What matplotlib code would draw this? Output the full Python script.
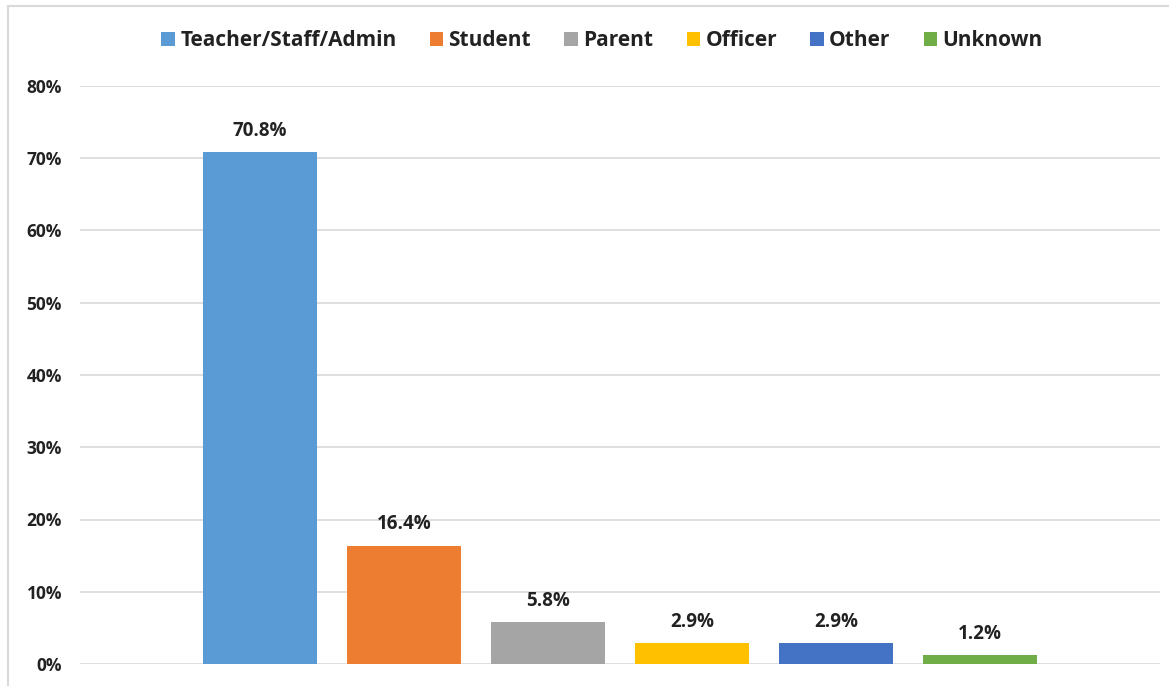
import matplotlib.pyplot as plt
from matplotlib.lines import Line2D
from matplotlib.patches import Patch

# data
groups = ["Teacher/Staff/Admin", "Student", "Parent", "Officer", "Other", "Unknown"]
shares = [70.8, 16.4, 5.8, 2.9, 2.9, 1.2]
colors = ["#5B9BD5", "#ED7D31", "#A5A5A5", "#FFC000", "#4472C4", "#70AD47"]
yticks = [0, 10, 20, 30, 40, 50, 60, 70, 80]

plt.rcParams['font.family'] = ['Open Sans', 'DejaVu Sans']

fig = plt.figure(figsize=(11.69, 6.86), dpi=100)
ax = fig.add_axes([80 / 1169, 22 / 686, 1080 / 1169, 578 / 686])

x = list(range(len(groups)))
bars = ax.bar(x, shares, width=0.785, color=colors, zorder=3)

for b, v in zip(bars, shares):
    ax.annotate(f"{v}%", (b.get_x() + b.get_width() / 2, v),
                xytext=(0, 8), textcoords="offset points",
                ha="center", va="bottom", fontsize=13.5, fontweight="bold",
                color="#222222")

ax.set_xlim(-1.25, 6.25)
ax.set_ylim(0, 80)
ax.set_yticks(yticks)
ax.set_yticklabels([f"{t}%" for t in yticks], fontsize=12.5, fontweight="bold",
                   color="#222222")
ax.set_xticks([])
ax.tick_params(axis="y", length=0, pad=13)
ax.grid(axis="y", color="#D9D9D9", linewidth=1.2, zorder=0)
for s in ax.spines.values():
    s.set_visible(False)

handles = [Patch(facecolor=c, edgecolor="none") for c in colors]
leg = fig.legend(handles, groups, loc="center", bbox_to_anchor=(0.515, 1 - 41 / 686),
                 ncol=6, frameon=False, handlelength=0.65, handleheight=0.65,
                 handletextpad=0.25, columnspacing=1.6,
                 prop={"size": 15, "weight": "bold"})
for t in leg.get_texts():
    t.set_color("#222222")

# light frame edges visible at top and left
fig.add_artist(Line2D([8 / 1169, 1], [1 - 6 / 686, 1 - 6 / 686],
                      transform=fig.transFigure, color="#D9D9D9", lw=1.5))
fig.add_artist(Line2D([8 / 1169, 8 / 1169], [0, 1 - 6 / 686],
                      transform=fig.transFigure, color="#D9D9D9", lw=1.5))

fig.savefig("out.png", dpi=100)
